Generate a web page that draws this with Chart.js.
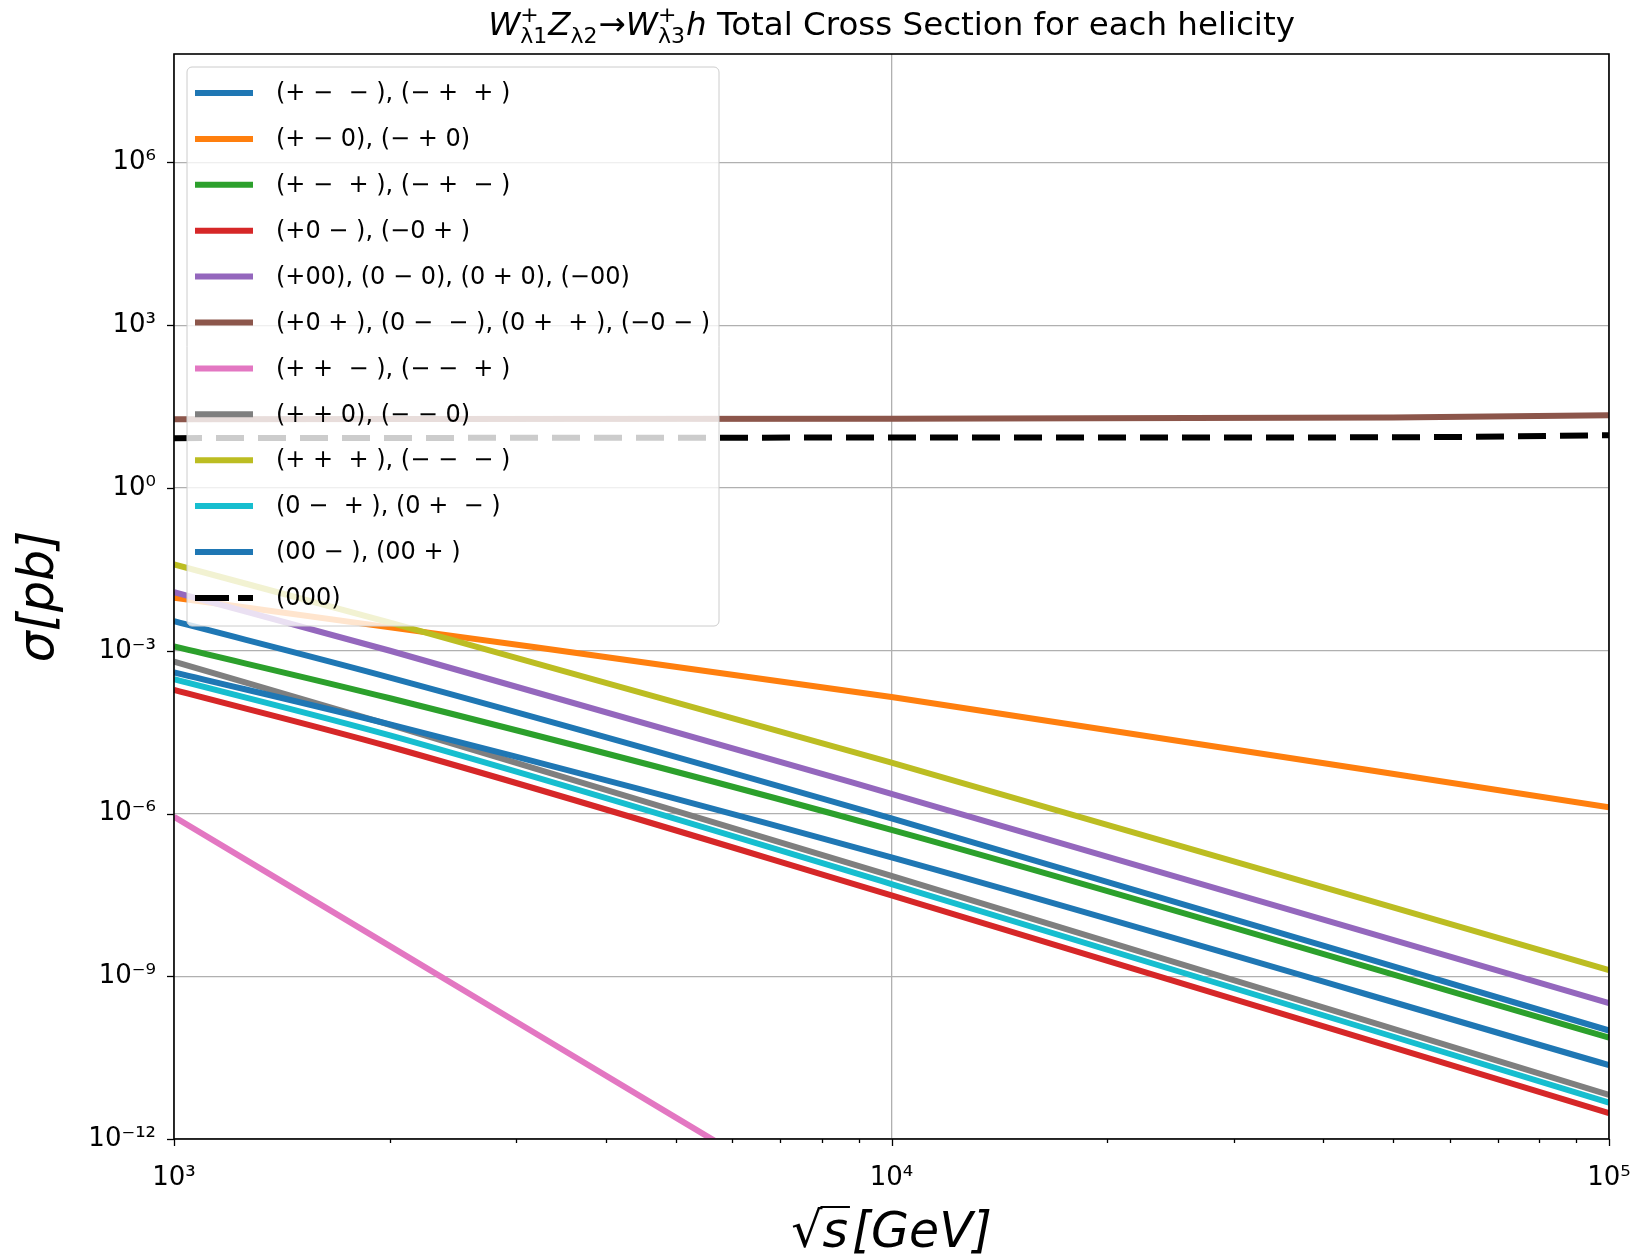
<!DOCTYPE html>
<html>
<head>
<meta charset="utf-8">
<script src="https://cdn.jsdelivr.net/npm/chart.js@4.4.1/dist/chart.umd.min.js"></script>
<style>
  html, body { margin: 0; background: #fff; }
  #wrap { width: 1635px; height: 1257px; position: relative; }
</style>
</head>
<body>
<div id="wrap"><canvas id="xsec"></canvas></div>
<script>
// sqrt(s) in GeV
const sqrtS = [1e3, 2e3, 1e4, 1e5];
const sqrtSFlat = [1e3, 1e4, 5e4, 1e5];
const sqrtSPink = [1e3, 2e3, 5e3, 1e4];

// sigma in pb, one array per helicity group
const sigPMM = [3.5e-3, 3.2e-4, 8.1e-7, 1.0e-10];
const sigPM0 = [9.5e-3, 2.7e-3, 1.4e-4, 1.3e-6];
const sigPMP = [1.2e-3, 1.33e-4, 5.0e-7, 7.4e-11];
const sigP0M = [1.9e-4, 1.7e-5, 3.1e-8, 3.0e-12];
const sigP00 = [1.2e-2, 1.0e-3, 2.3e-6, 3.2e-10];
const sigP0P = [18.6, 19, 20, 22];
const sigPPM = [8.7e-7, 3.6e-9, 2.5e-12, 1.05e-14];
const sigPP0 = [6.3e-4, 4.3e-5, 7.1e-8, 6.5e-12];
const sigPPP = [3.9e-2, 3.3e-3, 8.7e-6, 1.3e-9];
const sig0MP = [3.0e-4, 2.75e-5, 5.0e-8, 4.7e-12];
const sig00M = [4.0e-4, 4.4e-5, 1.55e-7, 2.3e-11];
const sig000 = [8.3, 8.5, 8.6, 9.4];

const helicityLabels = [
  "(+ −  − ), (− +  + )",
  "(+ − 0), (− + 0)",
  "(+ −  + ), (− +  − )",
  "(+0 − ), (−0 + )",
  "(+00), (0 − 0), (0 + 0), (−00)",
  "(+0 + ), (0 −  − ), (0 +  + ), (−0 − )",
  "(+ +  − ), (− −  + )",
  "(+ + 0), (− − 0)",
  "(+ +  + ), (− −  − )",
  "(0 −  + ), (0 +  − )",
  "(00 − ), (00 + )",
  "(000)",
];

const xTicks = [1e3, 2e3, 3e3, 4e3, 5e3, 6e3, 7e3, 8e3, 9e3,
  1e4, 2e4, 3e4, 4e4, 5e4, 6e4, 7e4, 8e4, 9e4, 1e5];
const yTicks = [1e-12, 1e-9, 1e-6, 1e-3, 1, 1e3, 1e6];

const series = [
  { x: sqrtS, y: sigPMM, color: "#1f77b4" },
  { x: sqrtS, y: sigPM0, color: "#ff7f0e" },
  { x: sqrtS, y: sigPMP, color: "#2ca02c" },
  { x: sqrtS, y: sigP0M, color: "#d62728" },
  { x: sqrtS, y: sigP00, color: "#9467bd" },
  { x: sqrtSFlat, y: sigP0P, color: "#8c564b" },
  { x: sqrtSPink, y: sigPPM, color: "#e377c2" },
  { x: sqrtS, y: sigPP0, color: "#7f7f7f" },
  { x: sqrtS, y: sigPPP, color: "#bcbd22" },
  { x: sqrtS, y: sig0MP, color: "#17becf" },
  { x: sqrtS, y: sig00M, color: "#1f77b4" },
  { x: sqrtSFlat, y: sig000, color: "#000000", dash: [28, 14] },
];

const FONT = "'DejaVu Sans'";
const GRID = "#b0b0b0";
const SUP = { "0": "⁰", "1": "¹", "2": "²", "3": "³", "4": "⁴", "5": "⁵", "6": "⁶", "7": "⁷", "8": "⁸", "9": "⁹", "-": "⁻" };

function isDecade(v) {
  const l = Math.log10(v);
  return Math.abs(l - Math.round(l)) < 1e-9;
}

function powLabel(v) {
  const e = String(Math.round(Math.log10(v)));
  return "10" + e.split("").map((c) => SUP[c]).join("");
}

const datasets = series.map((s, i) => ({
  label: helicityLabels[i],
  data: s.x.map((x, k) => ({ x, y: s.y[k] })),
  borderColor: s.color,
  borderWidth: 6,
  borderDash: s.dash || [],
  pointRadius: 0,
  cubicInterpolationMode: "monotone",
  fill: false,
  clip: 0,
  order: series.length - i,
}));

function drawTitle(ctx, cx, base) {
  const big = 32.5, small = 22;
  const parts = [
    { text: "W", italic: true },
    { sup: "+", sub: "λ1" },
    { text: "Z", italic: true },
    { sub: "λ2" },
    { text: "→" },
    { text: "W", italic: true },
    { sup: "+", sub: "λ3" },
    { text: "h", italic: true },
    { text: " Total Cross Section for each helicity" },
  ];
  const widths = parts.map((p) => {
    if (p.text) {
      ctx.font = `${p.italic ? "italic " : ""}${big}px ${FONT}`;
      return ctx.measureText(p.text).width;
    }
    ctx.font = `${small}px ${FONT}`;
    const a = p.sup ? ctx.measureText(p.sup).width : 0;
    const b = p.sub ? ctx.measureText(p.sub).width : 0;
    return Math.max(a, b) + 1;
  });
  let x = cx - widths.reduce((a, b) => a + b, 0) / 2;
  ctx.fillStyle = "#000";
  ctx.textAlign = "left";
  ctx.textBaseline = "alphabetic";
  parts.forEach((p, i) => {
    if (p.text) {
      ctx.font = `${p.italic ? "italic " : ""}${big}px ${FONT}`;
      ctx.fillText(p.text, x, base);
    } else {
      ctx.font = `${small}px ${FONT}`;
      if (p.sup) ctx.fillText(p.sup, x, base - 13);
      if (p.sub) ctx.fillText(p.sub, x, base + 8);
    }
    x += widths[i];
  });
}

function drawXLabel(ctx, cx, base) {
  const size = 49;
  ctx.font = `${size}px ${FONT}`;
  const wRad = ctx.measureText("√").width;
  ctx.font = `italic ${size}px ${FONT}`;
  const wS = ctx.measureText("s").width;
  const wRest = ctx.measureText("[GeV]").width;
  let x = cx - (wRad + wS + wRest + 4) / 2;
  ctx.fillStyle = "#000";
  ctx.textAlign = "left";
  ctx.textBaseline = "alphabetic";
  ctx.font = `${size}px ${FONT}`;
  ctx.fillText("√", x, base);
  x += wRad;
  ctx.font = `italic ${size}px ${FONT}`;
  ctx.fillText("s", x, base);
  ctx.strokeStyle = "#000";
  ctx.lineWidth = 2;
  ctx.beginPath();
  ctx.moveTo(x - 2, base - 40);
  ctx.lineTo(x + wS + 2, base - 40);
  ctx.stroke();
  x += wS + 4;
  ctx.fillText("[GeV]", x, base);
}

function drawYLabel(ctx, cx, cy) {
  ctx.save();
  ctx.translate(cx, cy);
  ctx.rotate(-Math.PI / 2);
  ctx.font = `italic 49px ${FONT}`;
  ctx.fillStyle = "#000";
  ctx.textAlign = "center";
  ctx.textBaseline = "middle";
  ctx.fillText("σ[pb]", 0, 0);
  ctx.restore();
}

function drawLegend(ctx, box) {
  ctx.save();
  ctx.beginPath();
  ctx.roundRect(box.left, box.top, box.right - box.left, box.bottom - box.top, 5);
  ctx.fillStyle = "rgba(255,255,255,0.8)";
  ctx.fill();
  ctx.strokeStyle = "#cccccc";
  ctx.lineWidth = 1;
  ctx.stroke();
  ctx.font = `24px ${FONT}`;
  ctx.textAlign = "left";
  ctx.textBaseline = "middle";
  series.forEach((s, i) => {
    const y = box.firstRow + i * box.rowStep;
    ctx.strokeStyle = s.color;
    ctx.lineWidth = 6;
    ctx.setLineDash(s.dash ? [34, 9] : []);
    ctx.beginPath();
    ctx.moveTo(box.left + 8, y);
    ctx.lineTo(box.left + 66, y);
    ctx.stroke();
    ctx.setLineDash([]);
    ctx.fillStyle = "#000";
    ctx.fillText(helicityLabels[i], box.left + 89, y + 1);
  });
  ctx.restore();
}

const framePlugin = {
  id: "frame",
  afterDatasetsDraw(chart) {
    const { ctx, chartArea: a, scales } = chart;
    drawLegend(ctx, { left: 187, top: 67, right: 719, bottom: 626, firstRow: 93, rowStep: 45.9 });

    ctx.save();
    ctx.strokeStyle = "#000";
    ctx.lineWidth = 1.3;
    scales.x.ticks.forEach((t) => {
      const px = Math.round(scales.x.getPixelForValue(t.value)) + 0.5;
      const len = isDecade(t.value) ? 7 : 4;
      ctx.beginPath();
      ctx.moveTo(px, a.bottom);
      ctx.lineTo(px, a.bottom + len);
      ctx.stroke();
    });
    scales.y.ticks.forEach((t) => {
      const py = Math.round(scales.y.getPixelForValue(t.value)) + 0.5;
      ctx.beginPath();
      ctx.moveTo(a.left - 7, py);
      ctx.lineTo(a.left, py);
      ctx.stroke();
    });
    ctx.lineWidth = 1.6;
    ctx.strokeRect(a.left, a.top, a.right - a.left, a.bottom - a.top);
    ctx.restore();

    drawTitle(ctx, (a.left + a.right) / 2, 35);
    drawXLabel(ctx, (a.left + a.right) / 2, 1247);
    drawYLabel(ctx, 40, (a.top + a.bottom) / 2);
  },
};

new Chart(document.getElementById("xsec"), {
  type: "line",
  data: { datasets },
  options: {
    responsive: true,
    maintainAspectRatio: false,
    animation: false,
    events: [],
    layout: { padding: { top: 54, right: 26, left: 0, bottom: 0 } },
    plugins: {
      legend: { display: false },
      title: { display: false },
      tooltip: { enabled: false },
    },
    scales: {
      x: {
        type: "logarithmic",
        min: 1e3,
        max: 1e5,
        afterBuildTicks: (scale) => {
          scale.ticks = xTicks.map((v) => ({ value: v }));
        },
        afterFit: (scale) => {
          scale.height = 118;
          scale.paddingLeft = 0;
          scale.paddingRight = 0;
        },
        border: { display: false },
        grid: {
          color: (c) => (c.tick && isDecade(c.tick.value) ? GRID : "rgba(0,0,0,0)"),
          lineWidth: 1.3,
          drawTicks: false,
        },
        ticks: {
          autoSkip: false,
          maxRotation: 0,
          padding: 24,
          color: "#000",
          font: { family: "DejaVu Sans", size: 26 },
          callback: (v) => (isDecade(v) ? powLabel(v) : ""),
        },
      },
      y: {
        type: "logarithmic",
        min: 1e-12,
        max: 1e8,
        afterBuildTicks: (scale) => {
          scale.ticks = yTicks.map((v) => ({ value: v }));
        },
        afterFit: (scale) => {
          scale.width = 174;
          scale.paddingTop = 0;
          scale.paddingBottom = 0;
        },
        border: { display: false },
        grid: { color: GRID, lineWidth: 1.3, drawTicks: false },
        ticks: {
          autoSkip: false,
          padding: 18,
          color: "#000",
          font: { family: "DejaVu Sans", size: 26 },
          callback: (v) => powLabel(v),
        },
      },
    },
  },
  plugins: [framePlugin],
});
</script>
</body>
</html>
